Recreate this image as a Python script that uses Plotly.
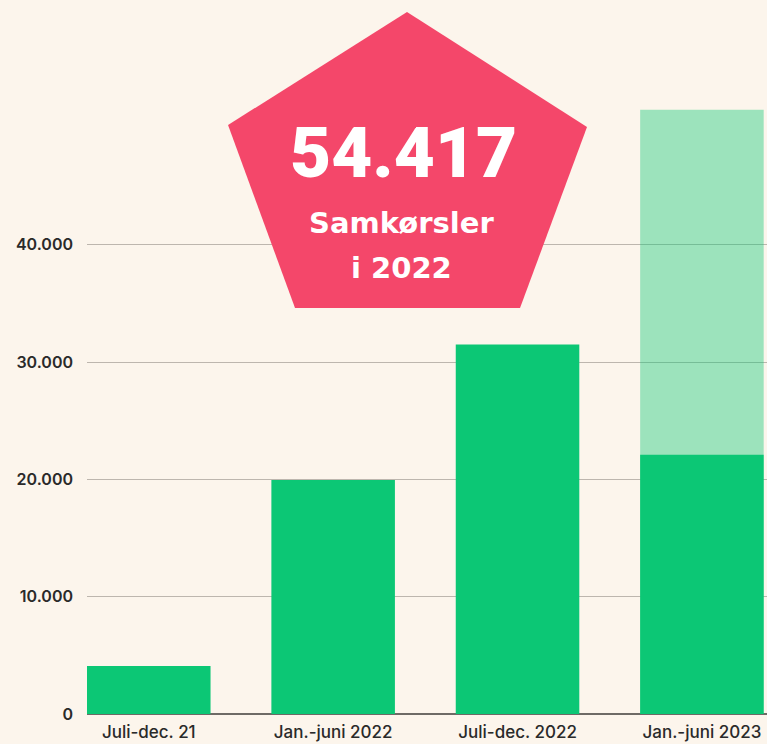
import plotly.graph_objects as go

categories = ["Juli-dec. 21", "Jan.-juni 2022", "Juli-dec. 2022", "Jan.-juni 2023"]
realized = [4100, 19950, 31500, 22100]
projected = [None, None, None, 51500]
tick_values = [0, 10000, 20000, 30000, 40000]
tick_labels = ["0", "10.000", "20.000", "30.000", "40.000"]
headline_number = "54.417"
headline_text = ["Samkørsler", "i 2022"]

BG = "#FCF5EC"
GREEN = "#0CC775"
LIGHT = "rgba(12,199,117,0.40)"
PINK = "#F4476A"
TXT = "#2A2A2A"

fig = go.Figure()
fig.add_trace(go.Bar(x=categories, y=projected, marker=dict(color=LIGHT, line=dict(width=0)),
                     hoverinfo="skip", showlegend=False))
fig.add_trace(go.Bar(x=categories, y=realized, marker=dict(color=GREEN, line=dict(width=0)),
                     showlegend=False))

# Pentagon badge (paper coordinates)
pent = [(0.4706, 0.9972), (0.7353, 0.8338), (0.6368, 0.5767), (0.3059, 0.5767), (0.2074, 0.8366)]
path = "M " + " L ".join(f"{x},{y}" for x, y in pent) + " Z"
fig.add_shape(type="path", path=path, xref="paper", yref="paper",
              fillcolor=PINK, line=dict(width=0), layer="above")

fig.add_annotation(text=headline_number, x=0.466, y=0.797, xref="paper", yref="paper",
                   showarrow=False, xanchor="center", yanchor="middle",
                   font=dict(family="Roboto", size=71, color="white", weight=900))
fig.add_annotation(text=headline_text[0], x=0.463, y=0.698, xref="paper", yref="paper",
                   showarrow=False, xanchor="center", yanchor="middle",
                   font=dict(family="DejaVu Sans", size=29, color="white", weight="bold"))
fig.add_annotation(text=headline_text[1], x=0.463, y=0.634, xref="paper", yref="paper",
                   showarrow=False, xanchor="center", yanchor="middle",
                   font=dict(family="DejaVu Sans", size=29, color="white", weight="bold"))

fig.update_layout(
    width=767, height=744,
    margin=dict(l=87, r=0, t=10, b=30),
    paper_bgcolor=BG, plot_bgcolor=BG,
    barmode="overlay", bargap=0.33,
    separators=",.",
    font=dict(family="Inter", color=TXT, size=15),
)
fig.update_xaxes(range=[-0.335, 3.353], showgrid=False, showline=False, ticks="",
                 tickfont=dict(family="Inter", size=17, color=TXT, weight=500),
                 ticklabelstandoff=6)
fig.update_yaxes(range=[0, 60000], tickvals=tick_values, ticktext=tick_labels,
                 showgrid=True, gridcolor="#BDB6AE", gridwidth=1,
                 zeroline=True, zerolinecolor="#6E6A66", zerolinewidth=1.5,
                 showline=False, ticks="",
                 tickfont=dict(family="Inter", size=16, color=TXT, weight=600),
                 ticklabelstandoff=13)

fig.write_html("out.html",
               config={"displayModeBar": False},
               post_script="document.body.style.margin='0';document.body.style.background='#FCF5EC';document.body.style.overflow='hidden';")
